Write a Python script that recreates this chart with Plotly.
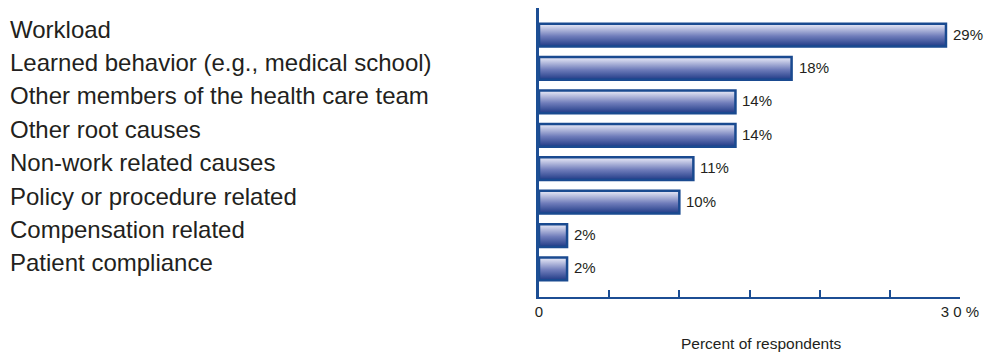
import plotly.graph_objects as go

# Survey data: root causes, percent of respondents
causes = [
    "Workload",
    "Learned behavior (e.g., medical school)",
    "Other members of the health care team",
    "Other root causes",
    "Non-work related causes",
    "Policy or procedure related",
    "Compensation related",
    "Patient compliance",
]
percents = [29, 18, 14, 14, 11, 10, 2, 2]
value_labels = ["29%", "18%", "14%", "14%", "11%", "10%", "2%", "2%"]
x_tick_values = [0, 5, 10, 15, 20, 25, 30]
x_tick_labels = ["0", "", "", "", "", "", "3 0 %"]
x_title = "Percent of respondents"

AXIS_BLUE = "#1c4e94"
BORDER_BLUE = "#1a4a90"
TEXT = "#231f20"
FONT = "Liberation Sans, Arial, sans-serif"
BAR_HALF = 0.34  # half bar thickness in category units

n = len(causes)
rows = [n - 1 - i for i in range(n)]  # first category on top

fig = go.Figure()

# Each bar is a filled rectangle with a vertical gradient, dark at the bottom
for row, val in zip(rows, percents):
    y0, y1 = row - BAR_HALF, row + BAR_HALF
    fig.add_trace(go.Scatter(
        x=[0, val, val, 0, 0],
        y=[y0, y0, y1, y1, y0],
        mode="lines",
        fill="toself",
        fillgradient=dict(
            type="vertical",
            start=y0, stop=y1,
            colorscale=[[0, "#1f3a86"], [0.45, "#6f7cba"], [0.9, "#d6d9ee"], [1, "#e4e6f3"]],
        ),
        line=dict(color=BORDER_BLUE, width=2.5),
        hoverinfo="skip",
        showlegend=False,
    ))

# Value labels just past the end of each bar
for row, val, lab in zip(rows, percents, value_labels):
    fig.add_annotation(
        xref="x", yref="y", x=val, y=row,
        xanchor="left", yanchor="middle",
        xshift=5, yshift=1,
        text=lab, showarrow=False,
        font=dict(family=FONT, size=15, color=TEXT),
    )

# Category names, left aligned at the left edge of the page
for row, name in zip(rows, causes):
    fig.add_annotation(
        xref="paper", yref="y",
        x=(10 - 539) / 421, y=row,
        xanchor="left", yanchor="middle",
        xshift=-2, yshift=6,
        text=name, showarrow=False,
        font=dict(family=FONT, size=24, color=TEXT),
    )

fig.add_annotation(
    xref="paper", yref="paper",
    x=(761 - 539) / 421, y=-(343 - 297) / 289,
    xanchor="center", yanchor="middle",
    text=x_title, showarrow=False,
    font=dict(family=FONT, size=15.5, color=TEXT),
)

fig.update_layout(
    width=984, height=352,
    margin=dict(l=539, r=24, t=8, b=55),
    paper_bgcolor="white",
    plot_bgcolor="white",
    font=dict(family=FONT, color=TEXT),
    xaxis=dict(
        range=[0, 30],
        tickvals=x_tick_values,
        ticktext=x_tick_labels,
        ticks="inside", ticklen=7, tickwidth=2, tickcolor=AXIS_BLUE,
        showline=True, linecolor=AXIS_BLUE, linewidth=2,
        showgrid=False, zeroline=False,
        tickfont=dict(family=FONT, size=15, color=TEXT),
        ticklabelstandoff=0,
        automargin=False,
    ),
    yaxis=dict(
        range=[-0.84, n - 1 + 0.81],
        showticklabels=False, ticks="",
        showline=True, linecolor=AXIS_BLUE, linewidth=2.5,
        showgrid=False, zeroline=False,
        automargin=False,
    ),
)

fig.write_html("out.html")
